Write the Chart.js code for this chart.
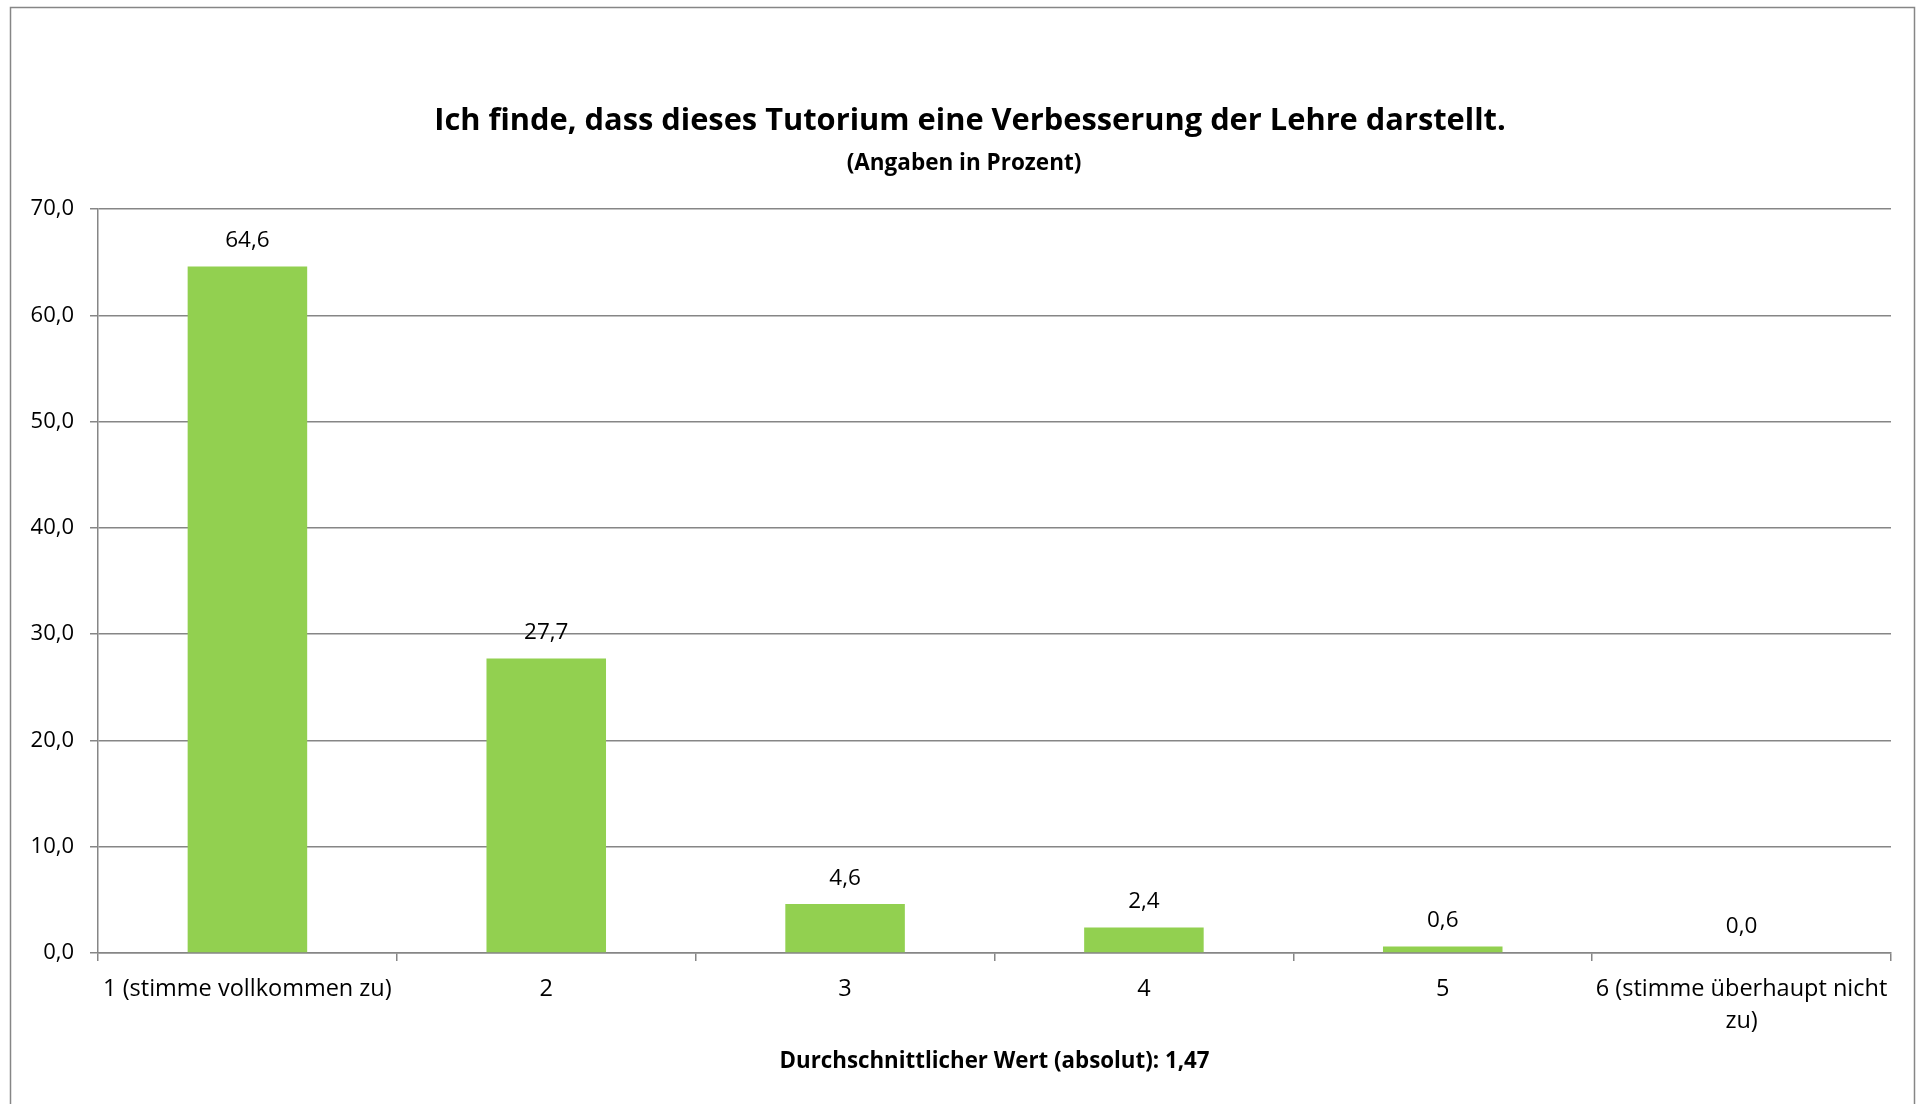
<!DOCTYPE html>
<html>
<head>
<meta charset="utf-8">
<script src="https://cdn.jsdelivr.net/npm/chart.js@4.4.0/dist/chart.umd.min.js"></script>
<style>
html,body{margin:0;padding:0;background:#fff;}
#wrap{width:1919px;height:1104px;position:relative;}
</style>
</head>
<body>
<div id="wrap"><canvas id="c" width="1919" height="1104"></canvas></div>
<script>
const categories = ["1 (stimme vollkommen zu)", "2", "3", "4", "5", ["6 (stimme überhaupt nicht", "zu)"]];
const values = [64.6, 27.7, 4.6, 2.4, 0.6, 0.0];
const yTicks = [0, 10, 20, 30, 40, 50, 60, 70];
const titleText = "Ich finde, dass dieses Tutorium eine Verbesserung der Lehre darstellt.";
const subtitleText = "(Angaben in Prozent)";
const xTitleText = "Durchschnittlicher Wert (absolut): 1,47";

const FONT = "'Open Sans', Lato, sans-serif";
const GRID = "#868686";
const fmt = v => Number(v).toFixed(1).replace('.', ',');

const framePlugin = {
  id: 'frame',
  beforeDraw(chart) {
    const ctx = chart.ctx;
    ctx.save();
    ctx.fillStyle = '#fff';
    ctx.fillRect(0, 0, chart.width, chart.height);
    ctx.strokeStyle = GRID;
    ctx.lineWidth = 1.5;
    ctx.strokeRect(10.5, 7.5, 1904, 1110);
    ctx.fillStyle = '#000';
    ctx.textAlign = 'center';
    ctx.textBaseline = 'middle';
    ctx.font = "bold 30.8px " + FONT;
    ctx.fillText(titleText, 970, 121);
    ctx.font = "bold 22.5px " + FONT;
    ctx.fillText(subtitleText, 964, 164);
    ctx.restore();
  }
};

const labelPlugin = {
  id: 'valueLabels',
  afterDatasetsDraw(chart) {
    const ctx = chart.ctx;
    const meta = chart.getDatasetMeta(0);
    ctx.save();
    ctx.font = "22.5px " + FONT;
    ctx.fillStyle = "#000";
    ctx.textAlign = "center";
    ctx.textBaseline = "middle";
    meta.data.forEach((bar, i) => {
      ctx.fillText(fmt(values[i]), bar.x, bar.y - 26);
    });
    ctx.restore();
  }
};

new Chart(document.getElementById('c'), {
  type: 'bar',
  data: {
    labels: categories,
    datasets: [{
      data: values,
      backgroundColor: '#92D050',
      borderWidth: 0,
      barPercentage: 0.4,
      categoryPercentage: 1.0
    }]
  },
  options: {
    responsive: false,
    animation: false,
    devicePixelRatio: 1,
    layout: { padding: { left: 0, right: 28, top: 209, bottom: 0 } },
    plugins: {
      legend: { display: false },
      tooltip: { enabled: false },
      title: { display: false },
      subtitle: { display: false }
    },
    scales: {
      x: {
        offset: true,
        grid: { display: true, drawOnChartArea: false, drawTicks: true, tickLength: 8, color: GRID, lineWidth: 1.5, offset: true },
        border: { display: true, color: GRID, width: 1.5 },
        ticks: { color: '#000', font: { family: FONT, size: 23.5, lineHeight: 1.36 }, padding: 12, maxRotation: 0, autoSkip: false },
        title: {
          display: true,
          text: xTitleText,
          color: '#000',
          font: { family: FONT, size: 22.3, weight: 'bold', lineHeight: 1.2 },
          padding: { top: 0, bottom: 29 }
        },
        afterFit(scale) { scale.height = 1104 - 953; }
      },
      y: {
        min: 0,
        max: 70,
        afterBuildTicks(scale) { scale.ticks = yTicks.map(v => ({ value: v })); },
        grid: { color: GRID, lineWidth: 1.5, drawTicks: true, tickLength: 8 },
        border: { display: true, color: GRID, width: 1.5 },
        ticks: { color: '#000', font: { family: FONT, size: 22 }, padding: 16, callback: v => fmt(v) },
        afterFit(scale) { scale.width = 98; }
      }
    }
  },
  plugins: [framePlugin, labelPlugin]
});
</script>
</body>
</html>
